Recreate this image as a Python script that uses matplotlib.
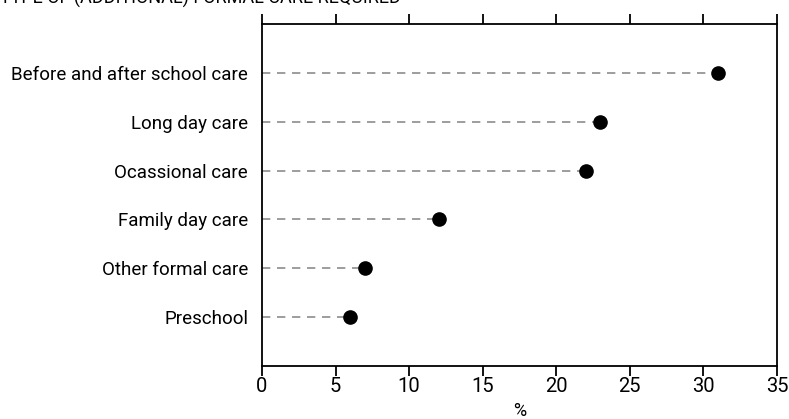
import matplotlib
matplotlib.use("Agg")
import matplotlib.pyplot as plt

categories = ["Preschool", "Other formal care", "Family day care",
              "Ocassional care", "Long day care", "Before and after school care"]
values = [6, 7, 12, 22, 23, 31]
xticks = [0, 5, 10, 15, 20, 25, 30, 35]
title = "TYPE OF (ADDITIONAL) FORMAL CARE REQUIRED"

plt.rcParams['font.family'] = ['Roboto', 'DejaVu Sans']

fig = plt.figure(figsize=(7.89, 4.19), dpi=100)
ax = fig.add_axes([262/789, 1 - 366/419, (777-262)/789, (366-24)/419])

ypos = list(range(len(categories)))
for y, v in zip(ypos, values):
    ax.plot([0, v], [y, y], color='#8c8c8c', lw=1.2, dashes=(5, 4), zorder=1)
ax.plot(values, ypos, 'o', color='black', markersize=9.5, zorder=2)

ax.set_xlim(0, 35)
ax.set_ylim(-1, 6)
ax.set_xticks(xticks)
ax.set_xticklabels([str(t) for t in xticks], fontsize=14.5)
ax.set_yticks(ypos)
ax.set_yticklabels(categories, fontsize=13.5)
ax.tick_params(axis='y', length=0, pad=10)
ax.tick_params(axis='x', direction='out', length=7, width=1.3, top=True, labeltop=False, pad=1)
for s in ax.spines.values():
    s.set_linewidth(1.3)
ax.set_xlabel("%", fontsize=13, labelpad=4)

fig.text(0.0, 1 - 4/419, title, fontsize=13, ha='left', va='baseline')

fig.savefig("out.png", dpi=100)
